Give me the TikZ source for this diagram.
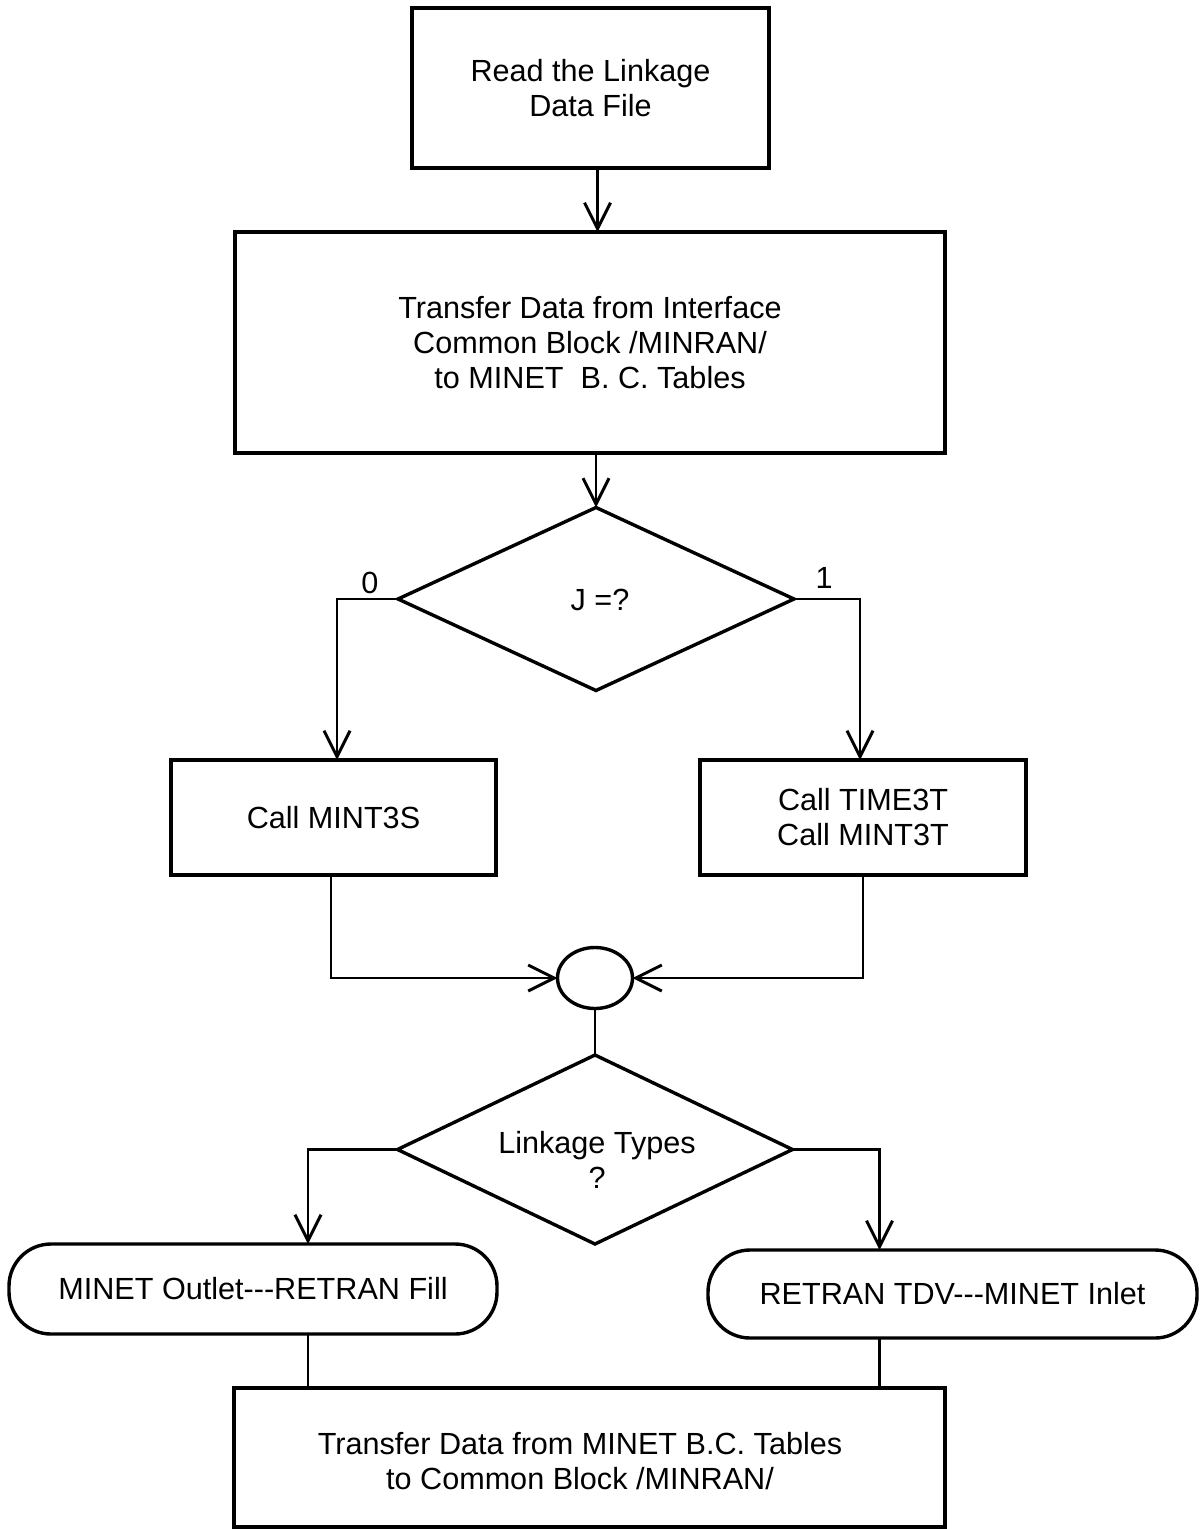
\documentclass[tikz,border=0pt]{standalone}
\usepackage{fontspec}
\setmainfont{Liberation Sans}
\usetikzlibrary{shapes.geometric,arrows.meta}
\begin{document}
\begin{tikzpicture}[x=0.5pt,y=-0.5pt,
  every node/.style={font=\fontsize{15.3pt}{17.5pt}\selectfont, align=center, inner sep=0pt, outer sep=0pt},
  boxnode/.style={draw, line width=1.7pt, rectangle},
  roundnode/.style={draw, line width=1.7pt, rectangle, rounded corners=21pt},
  decnode/.style={draw, line width=1.7pt, diamond},
  joinnode/.style={draw, line width=1.7pt, ellipse, minimum width=37.5pt, minimum height=30.5pt},
  conn/.style={line width=1.4pt},
  arr/.style={conn, -{Straight Barb[length=13pt,width=13pt,line width=1.5pt]}}
]
\useasboundingbox (0,0) rectangle (1200,1529);

\node[boxnode, minimum width=178.5pt, minimum height=80pt] (b1) at (590.5,88) {Read the Linkage\\Data File};
\node[boxnode, minimum width=355pt, minimum height=110.5pt] (b2) at (590,342.5) {Transfer Data from Interface\\Common Block /MINRAN/\\to MINET\ \ B. C. Tables};
\node[decnode, minimum width=198pt, minimum height=91.5pt] (d1) at (596,599) {};
\node (d1t) at (600,600) {J =?};
\node (l0) at (370,583) {0};
\node (l1) at (824,578) {1};
\node[boxnode, minimum width=162.5pt, minimum height=57.5pt] (b3) at (333.5,817.5) {Call MINT3S};
\node[boxnode, minimum width=163pt, minimum height=57.5pt] (b4) at (863,817.5) {Call TIME3T\\Call MINT3T};
\node[joinnode] (c) at (595,978) {};
\node[decnode, minimum width=197.5pt, minimum height=94.5pt] (d2) at (595,1149.5) {};
\node (d2t) at (597,1160) {Linkage Types\\?};
\node[roundnode, minimum width=244pt, minimum height=45pt] (r1) at (253,1289) {MINET Outlet-{}-{}-RETRAN Fill};
\node[roundnode, minimum width=244.5pt, minimum height=44pt] (r2) at (952.5,1294) {RETRAN TDV-{}-{}-MINET Inlet};
\node[boxnode, minimum width=355.5pt, minimum height=69.5pt] (b5) at (589.5,1457.5) {};
\node (b5t) at (580,1461) {Transfer Data from MINET B.C. Tables\\to Common Block /MINRAN/};

\draw[arr] ([xshift=3.5pt]b1.south) -- ([xshift=3.5pt]b1.south |- b2.north);
\draw[arr] (d1.north |- b2.south) -- (d1.north);
\draw[arr] (d1.west) -| ([xshift=1.75pt]b3.north);
\draw[arr] (d1.east) -| ([xshift=-1.5pt]b4.north);
\draw[arr] ([xshift=-1.25pt]b3.south) |- (c.west);
\draw[arr] (b4.south) |- (c.east);
\draw[conn] (c.south) -- (d2.north);
\draw[arr] (d2.west) -| ([xshift=27.5pt]r1.north);
\draw[arr] (d2.east) -| ([xshift=-36.5pt]r2.north);
\draw[conn] ([xshift=27.5pt]r1.south) -- ([xshift=27.5pt]r1.south |- b5.north);
\draw[conn] ([xshift=-36.5pt]r2.south) -- ([xshift=-36.5pt]r2.south |- b5.north);
\end{tikzpicture}
\end{document}
